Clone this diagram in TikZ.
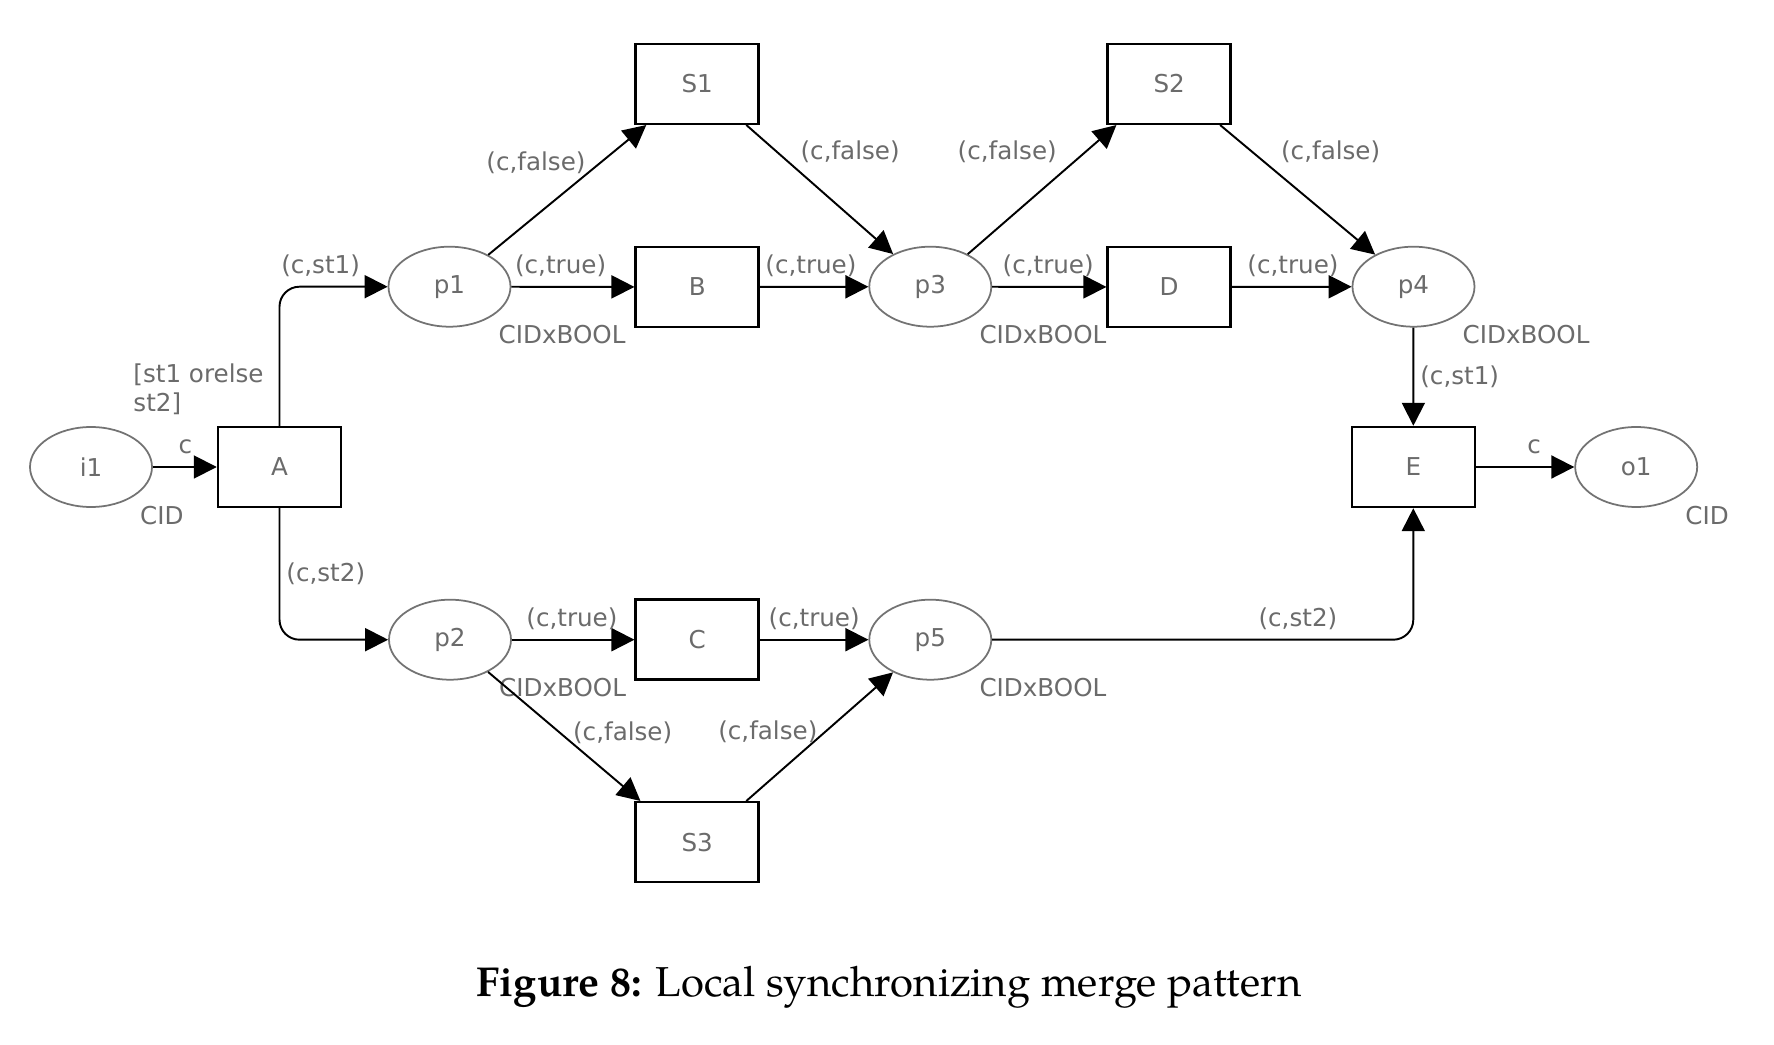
\documentclass[tikz,border=0pt]{standalone}
\usepackage{fontspec}
\usetikzlibrary{shapes.geometric,arrows.meta}
\newfontfamily\netfont{DejaVu Sans}
\newfontfamily\capfont{texgyrepagella}[Extension=.otf,
  UprightFont=*-regular, BoldFont=*-bold]
\definecolor{netgray}{gray}{0.42}
\tikzset{
  % Text of the net (inscriptions, names, colour sets)
  nettext/.style = {text=netgray, font=\netfont\fontsize{7}{8.2}\selectfont},
  inscr/.style = {nettext, inner xsep=0.6mm, inner ysep=0.9mm,
    text height=5.3pt, text depth=0.9pt},
  colset/.style = {inscr, inner sep=0pt, anchor=west},
  % Places and transitions
  pnplace/.style = {ellipse, draw=black!55, line width=0.5pt, nettext,
    minimum width=1.22cm, minimum height=0.80cm, inner sep=0pt},
  pntrans/.style = {rectangle, draw=black, line width=0.7pt, nettext,
    minimum width=1.23cm, minimum height=0.80cm, inner sep=0pt},
  % Arcs
  pnarc/.style = {-{Triangle[length=2.3mm,width=2.3mm]}, line width=0.55pt},
  bent/.style = {pnarc, rounded corners=2mm}
}

\begin{document}
\begin{tikzpicture}
    \fill[white] (0,0) rectangle (17.74,10.44);
    \useasboundingbox (0,0) rectangle (17.74,10.44);
    % Places with their colour sets
    \foreach \nm/\x/\y/\cs in {i1/0.91/5.77/CID, p1/4.495/7.573/CIDxBOOL,
        p3/9.303/7.573/CIDxBOOL, p4/14.135/7.573/CIDxBOOL, o1/16.362/5.77/CID,
        p2/4.50/4.043/CIDxBOOL, p5/9.303/4.043/CIDxBOOL}
    {
    \node[pnplace] (\nm) at (\x,\y) {\nm};
    \node[colset] (\nm cs) at ([shift={(4.85mm,-4.95mm)}]\nm.center) {\cs};
    }
    % Transitions
    \foreach \nm/\x/\y in {A/2.795/5.77, B/6.972/7.57, S1/6.972/9.602,
        D/11.692/7.57, S2/11.692/9.602, E/14.133/5.77, C/6.972/4.043, S3/6.972/2.018}
    \node[pntrans] (\nm) at (\x,\y) {\nm};
    % Guard of A
    \node[nettext, inner sep=0pt, align=left, anchor=north west] (guardA)
        at ([shift={(-8.4mm,6.25mm)}]A.north west) {[st1 orelse\\st2]};
    % Input and split
    \draw[pnarc] (i1) -- node[inscr, above, pos=.51] {c} (A);
    \draw[bent] (A) |- node[inscr, above, pos=.69] {(c,st1)} (p1);
    \draw[bent] (A) |- node[inscr, right, pos=.25] {(c,st2)} (p2);
    % Upper branch
    \draw[pnarc] (p1) -- node[inscr, above, pos=.40] {(c,true)} (B);
    \draw[pnarc] (p1) -- node[inscr, pos=.71, xshift=-6.45mm] {(c,false)} (S1.-141);
    \draw[pnarc] (S1.-40) -- node[inscr, pos=.21, xshift=7.3mm] {(c,false)} (p3);
    \draw[pnarc] (B) -- node[inscr, above, pos=.47] {(c,true)} (p3);
    \draw[pnarc] (p3) -- node[inscr, above, pos=.49] {(c,true)} (D);
    \draw[pnarc] (p3) -- node[inscr, pos=.79, xshift=-7.8mm] {(c,false)} (S2.-142);
    \draw[pnarc] (S2.-39) -- node[inscr, pos=.21, xshift=7.8mm] {(c,false)} (p4);
    \draw[pnarc] (D) -- node[inscr, above, pos=.51] {(c,true)} (p4);
    % Lower branch
    \draw[pnarc] (p2) -- node[inscr, above, pos=.49] {(c,true)} (C);
    \draw[pnarc] (C) -- node[inscr, above] {(c,true)} (p5);
    \draw[pnarc] (p2) -- node[inscr, pos=.47, xshift=6.3mm] {(c,false)} (S3.144);
    \draw[pnarc] (S3.40) -- node[inscr, pos=.535, xshift=-5.7mm] {(c,false)} (p5);
    % Merge and output
    \draw[pnarc] (p4) -- node[inscr, right] {(c,st1)} (E);
    \draw[bent] (p5) -| node[inscr, above, pos=.363] {(c,st2)} (E);
    \draw[pnarc] (E) -- node[inscr, above, pos=.59] {c} (o1);
    % Caption
    \node[anchor=base west, inner sep=0pt, font=\capfont\fontsize{11.9}{14}\selectfont]
        (caption) at (4.76,0.473) {\textbf{Figure 8:} Local synchronizing merge pattern};
\end{tikzpicture}
\end{document}
